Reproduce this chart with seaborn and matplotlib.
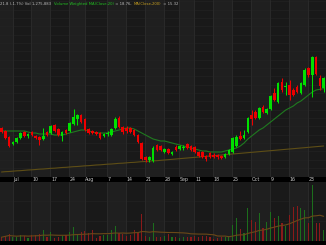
import numpy as np
import pandas as pd
import matplotlib
matplotlib.use("Agg")
import matplotlib.pyplot as plt
import seaborn as sns

# ---------------- data ----------------
opens = [16.40,16.22,15.86,15.44,15.56,15.80,16.16,15.92,16.16,15.92,
         15.86,15.74,16.16,16.10,16.58,16.34,15.92,16.28,16.22,16.64,
         16.94,17.18,16.94,16.34,16.22,16.16,16.10,15.92,16.04,15.98,
         16.40,17.00,16.46,16.40,16.40,16.28,15.98,15.50,14.66,14.48,
         14.42,15.38,15.32,14.96,15.14,14.84,15.26,15.14,15.20,15.44,
         15.32,15.26,14.96,14.96,14.72,14.90,14.78,14.78,14.72,14.66,
         14.84,14.96,15.32,15.92,15.80,16.16,17.18,17.36,17.00,17.66,
         17.30,17.54,18.50,17.96,19.16,18.86,18.98,18.68,18.86,18.50,
         18.98,20.00,19.58,20.66,19.40,18.80]
highs = [16.46,16.28,15.92,15.62,15.86,16.16,16.22,16.10,16.22,15.98,
         15.92,16.40,16.22,16.58,16.64,16.40,16.22,16.34,16.76,17.54,
         17.24,17.24,17.00,16.40,16.28,16.22,16.16,16.10,16.22,16.40,
         17.06,17.12,16.52,16.52,16.46,16.34,16.04,15.56,14.72,14.72,
         15.32,15.44,15.38,15.20,15.20,15.02,15.38,15.38,15.38,15.50,
         15.38,15.32,15.02,15.02,14.78,14.96,14.90,14.84,14.78,14.90,
         15.14,15.86,15.98,16.22,16.28,17.06,17.48,17.48,17.66,17.78,
         17.60,18.38,18.80,19.16,19.40,19.16,19.28,18.80,18.98,19.16,
         20.00,20.06,20.72,20.72,19.58,19.46]
lows = [16.10,15.74,15.26,15.38,15.50,15.74,15.86,15.80,15.92,15.74,
        15.38,15.68,15.92,16.04,16.16,15.92,15.62,16.04,16.16,16.58,
        16.58,16.70,16.22,16.04,16.04,15.98,15.74,15.86,15.92,15.92,
        16.34,16.40,16.04,16.10,16.10,15.92,15.50,14.48,14.36,14.36,
        14.36,15.02,15.02,14.90,14.84,14.78,15.02,15.08,15.08,15.14,
        15.02,14.90,14.66,14.60,14.42,14.60,14.60,14.54,14.54,14.60,
        14.78,14.90,15.26,15.68,15.74,16.10,16.58,16.94,16.94,17.30,
        17.24,17.48,18.02,17.90,18.56,18.38,18.08,18.32,18.50,18.44,
        18.92,19.46,18.26,19.58,18.68,18.56]
closes = [16.16,15.80,15.32,15.56,15.80,16.10,15.92,16.04,15.98,15.80,
          15.68,15.92,15.98,16.52,16.22,15.98,16.16,16.10,16.70,17.06,
          17.18,16.76,16.28,16.10,16.10,16.04,15.80,16.04,16.10,16.34,
          16.94,16.46,16.16,16.22,16.16,15.98,15.56,14.54,14.48,14.66,
          15.20,15.08,15.08,15.14,14.90,14.96,15.08,15.32,15.26,15.20,
          15.08,14.96,14.72,14.66,14.54,14.66,14.66,14.66,14.60,14.84,
          15.08,15.80,15.86,15.74,15.98,17.00,16.94,17.00,17.60,17.36,
          17.54,18.32,18.08,19.10,18.68,18.92,18.38,18.38,18.56,19.10,
          19.88,19.58,20.66,19.64,18.92,19.40]
volumes_k = [165,250,335,165,165,285,250,135,300,300,
             335,535,200,450,135,165,250,285,415,665,
             335,415,500,365,535,135,250,300,300,535,
             750,365,335,250,285,535,365,1335,250,165,
             865,200,200,235,335,165,165,115,165,200,
             165,235,200,235,235,165,100,115,165,165,
             235,785,1115,565,365,1615,1035,950,1400,615,
             950,1450,1115,1235,865,735,1285,1700,1735,1615,
             1535,865,2785,865,900,535]
vwma20 = [16.22,16.22,16.22,16.22,16.22,16.22,16.22,16.16,16.10,16.10,
          16.04,16.04,16.04,16.04,15.98,15.98,15.98,16.04,16.10,16.16,
          16.22,16.28,16.28,16.22,16.16,16.10,16.10,16.10,16.10,16.16,
          16.22,16.28,16.34,16.40,16.40,16.34,16.22,16.10,15.98,15.86,
          15.74,15.68,15.62,15.62,15.56,15.50,15.44,15.38,15.32,15.26,
          15.20,15.14,15.08,15.02,15.02,14.96,14.96,14.96,14.96,15.02,
          15.08,15.14,15.20,15.32,15.50,15.74,15.92,16.10,16.28,16.40,
          16.58,16.76,16.94,17.12,17.30,17.48,17.60,17.72,17.90,18.02,
          18.20,18.38,18.56,18.68,18.72,18.76]
ma200 = [13.76,13.78,13.79,13.81,13.83,13.84,13.86,13.88,13.89,13.91,
         13.93,13.94,13.96,13.98,13.99,14.01,14.03,14.04,14.06,14.08,
         14.09,14.11,14.13,14.14,14.16,14.18,14.19,14.21,14.23,14.24,
         14.26,14.28,14.29,14.31,14.33,14.34,14.36,14.38,14.39,14.41,
         14.43,14.44,14.46,14.48,14.50,14.52,14.54,14.56,14.58,14.60,
         14.62,14.64,14.66,14.68,14.70,14.72,14.74,14.76,14.78,14.80,
         14.82,14.84,14.86,14.88,14.90,14.92,14.94,14.96,14.98,15.00,
         15.02,15.04,15.06,15.08,15.10,15.12,15.14,15.16,15.18,15.20,
         15.22,15.24,15.26,15.28,15.30,15.32]
tick_idx = [3, 8, 13, 18, 22, 28, 33, 38, 43, 47, 51, 56, 61, 66, 71, 76, 81]
tick_labels = ["Jul", "10", "17", "24", "Aug", "7", "14", "21", "28",
               "Sep", "11", "18", "25", "Oct", "9", "16", "23"]
header_texts = ["21.8 (-1.7%) Vol 1,275,883  ", "Volume Weighted MA(Close,20)",
                " = 18.76,  ", "MA(Close,200)", " = 15.32"]

# ---------------- style ----------------
sns.set_theme(style="dark")
plt.rcParams["font.family"] = ["DejaVu Sans"]

W, H = 326, 245
BG_DARK = "#191919"
BG_LIGHT = "#1f1f1f"
GRID = "#2a2a2a"
UP = "#00e000"
DOWN = "#ee0000"
VUP = "#1c6e1c"
VDOWN = "#8a1a1a"

n = len(closes)
x = np.arange(n)
df = pd.DataFrame({"x": x, "open": opens, "high": highs, "low": lows,
                   "close": closes, "vol": volumes_k,
                   "vwma20": vwma20, "ma200": ma200})
df["up"] = df["close"] >= df["open"]
df["volma"] = df["vol"].rolling(20, min_periods=1).mean()

fig = plt.figure(figsize=(W / 100, H / 100), dpi=100, facecolor="#000000")
ax = fig.add_axes([0, (H - 176.5) / H, 1, 176.5 / H])
axd = fig.add_axes([0, (H - 181.5) / H, 1, 5 / H])
axv = fig.add_axes([0, (H - 240.5) / H, 1, 59 / H])

xmin, xmax = -0.40, 85.62
grid_pos = [t - 0.1 for t in tick_idx]
edges = [xmin] + grid_pos + [xmax]

for a in (ax, axv, axd):
    a.set_xlim(xmin, xmax)
    for s in a.spines.values():
        s.set_visible(False)
    a.set_xticks([])
    a.set_yticks([])
    a.grid(False)

for a in (ax, axv):
    a.set_facecolor(BG_DARK)
    for k in range(len(edges) - 1):
        col = BG_LIGHT if (k % 2 == 0) else BG_DARK
        a.axvspan(edges[k], edges[k + 1], color=col, lw=0, zorder=0)
    for g in grid_pos:
        a.axvline(g, color=GRID, lw=0.7, zorder=0.5)

# price panel
ax.set_ylim(13.49, 24.08)
for yv in np.arange(14.0, 24.01, 0.5):
    ax.axhline(yv, color="#232323", lw=0.5, zorder=0.4)

sns.lineplot(data=df, x="x", y="ma200", ax=ax, color="#5e4e16", lw=0.8, zorder=2)
sns.lineplot(data=df, x="x", y="vwma20", ax=ax, color="#1f7a1f", lw=0.8, zorder=2)

for _, r in df.iterrows():
    col = UP if r["up"] else DOWN
    ax.vlines(r["x"], r["low"], r["high"], color=col, lw=0.75, zorder=3)
    lo = min(r["open"], r["close"])
    hgt = max(abs(r["close"] - r["open"]), 0.04)
    ax.bar(r["x"], hgt, bottom=lo, width=0.7, color=col, lw=0, zorder=4)
ax.set_xlabel("")
ax.set_ylabel("")

# date strip
axd.set_facecolor("#000000")
axd.set_ylim(0, 1)
for t, lab in zip(tick_idx, tick_labels):
    axd.text(t + 0.05, 0.45, lab, ha="left", va="center",
             fontsize=3.4, color="#c8c8c8", clip_on=False)

# volume panel
axv.set_ylim(0, 2950)
for yv in (1000, 2000):
    axv.axhline(yv, color="#232323", lw=0.5, zorder=0.4)
axv.bar(df["x"], df["vol"], width=0.3, lw=0,
        color=[VUP if u else VDOWN for u in df["up"]], zorder=2)
sns.lineplot(data=df, x="x", y="volma", ax=axv, color="#6a4818", lw=0.8, zorder=3)
axv.set_xlabel("")
axv.set_ylabel("")

# header, pieces laid out one after another
hcol = ["#bdbdbd", "#22c022", "#bdbdbd", "#c8a020", "#bdbdbd"]
fig.canvas.draw()
renderer = fig.canvas.get_renderer()
fs = 2.7
px = 0.5
for txt, c in zip(header_texts, hcol):
    t = fig.text(px / W, (H - 3.6) / H, txt, ha="left", va="center",
                 fontsize=fs, color=c)
    bb = t.get_window_extent(renderer=renderer)
    px += bb.width

fig.savefig("out.png", dpi=100, facecolor="#000000")
